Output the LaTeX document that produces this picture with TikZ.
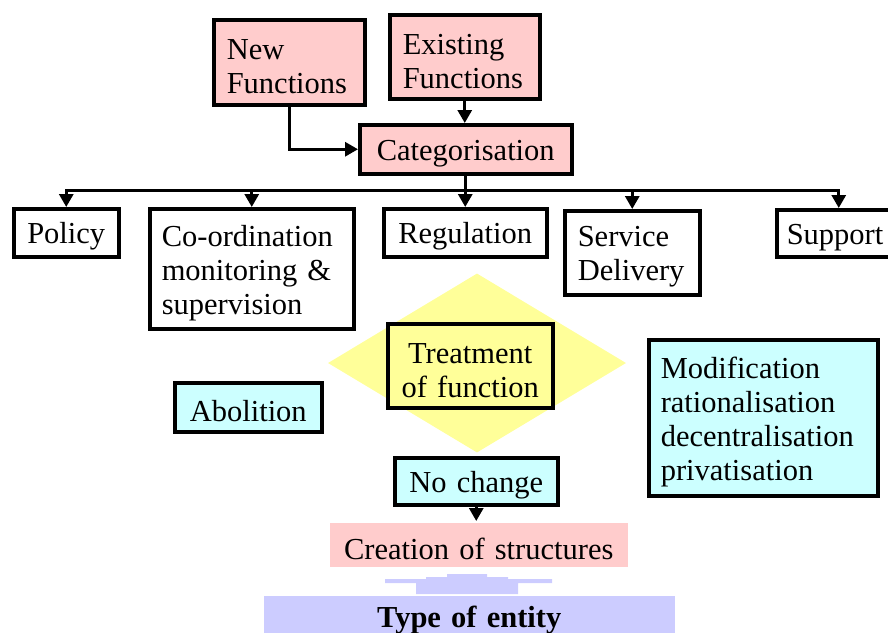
\documentclass[tikz,border=0pt]{standalone}
\usepackage{fontspec}
\setmainfont{Liberation Serif}
\usetikzlibrary{arrows.meta,shapes.geometric}
\definecolor{pinkc}{HTML}{FFCCCC}
\definecolor{yelc}{HTML}{FFFF99}
\definecolor{cyanc}{HTML}{CCFFFF}
\definecolor{lavc}{HTML}{CCCCFF}
\newcommand\tsx{\rule{0pt}{29pt}}
\begin{document}
\begin{tikzpicture}[x=1pt,y=-1pt,
  base/.style={font=\fontsize{30.5}{34}\selectfont, anchor=north west, inner ysep=0pt, line width=3.5pt},
  framed/.style={base, draw=black},
  arr/.style={line width=3pt, -{Triangle[length=13pt,width=14pt]}},
  conn/.style={line width=3pt, line cap=rect}]
\useasboundingbox (0,0) rectangle (888,632);

% top
\node[framed, fill=pinkc, minimum width=151pt, minimum height=85pt, text width=125pt, inner xsep=13pt, align=left] (newf) at (212,18) {\tsx New\\Functions};
\node[framed, fill=pinkc, minimum width=150pt, minimum height=84pt, text width=124pt, inner xsep=13pt, align=left] (exist) at (388,13) {\tsx Existing\\Functions};
\node[framed, fill=pinkc, minimum width=212pt, minimum height=49pt, text width=200pt, inner xsep=6pt, align=center] (cat) at (358,123) {\tsx Categorisation};

% categories
\node[framed, fill=white, minimum width=105pt, minimum height=48pt, text width=97pt, inner xsep=4pt, align=center] (policy) at (12,207) {\tsx Policy};
\node[framed, fill=white, minimum width=204pt, minimum height=120pt, text width=180pt, inner xsep=12pt, align=left] (coord) at (148,207) {\tsx Co-ordination\\monitoring \&\\supervision};
\node[framed, fill=white, minimum width=163pt, minimum height=48pt, text width=153pt, inner xsep=5pt, align=center] (regul) at (382,207) {\tsx Regulation};
\node[framed, fill=white, minimum width=135pt, minimum height=84pt, text width=109pt, inner xsep=13pt, align=left] (serv) at (563,209) {\tsx Service\\Delivery};
\node[framed, fill=white, minimum width=124pt, minimum height=47pt, text width=104pt, inner xsep=10pt, align=left] (support) at (775,208) {\tsx Support};

% treatment
\node[diamond, fill=yelc, minimum width=298pt, minimum height=179pt, inner sep=0pt, anchor=center] (treatdia) at (477,363) {};
\node[framed, fill=yelc, minimum width=165pt, minimum height=84pt, text width=155pt, inner xsep=5pt, align=center] (treat) at (386,322) {\tsx Treatment\\of function};
\node[framed, fill=cyanc, minimum width=147pt, minimum height=49pt, text width=137pt, inner xsep=5pt, align=center] (abol) at (173,381) {\tsx Abolition};
\node[framed, fill=cyanc, minimum width=163pt, minimum height=47pt, text width=153pt, inner xsep=5pt, align=center] (noch) at (393,456) {\tsx No change};
\node[framed, fill=cyanc, minimum width=229pt, minimum height=156pt, text width=205pt, inner xsep=12pt, align=left] (modif) at (647,338) {\tsx Modification\\rationalisation\\decentralisation\\privatisation};

% bottom
\node[base, fill=pinkc, minimum width=298pt, minimum height=44pt, text width=288pt, inner xsep=5pt, align=center] (crea) at (328,521) {\tsx Creation of structures};
\fill[lavc] (447,574) -- (487,574) -- (487,577) -- (508,577) -- (508,579) -- (552,579) -- (552,583) -- (518,583) -- (518,594) -- (416,594) -- (416,583) -- (385,583) -- (385,579) -- (426,579) -- (426,577) -- (447,577) -- cycle;
\node[base, fill=lavc, minimum width=411pt, minimum height=42pt, text width=391pt, inner xsep=10pt, align=center, font=\fontsize{30.5}{34}\selectfont\bfseries] (type) at (262,594) {\tsx Type of entity};
\fill[lavc] (type.south west) rectangle ([yshift=-12pt]type.south east);

% connectors
\draw[arr] (newf.south) |- (cat.west);
\draw[arr] (exist.south) -- (exist.south |- cat.north);
\coordinate (busy) at (0,190);
\draw[conn] (cat.south) -- (cat.south |- busy);
\draw[conn] (policy.north |- busy) -- (support.north |- busy);
\draw[arr] (policy.north |- busy) -- (policy.north);
\draw[arr] (coord.north |- busy) -- (coord.north);
\draw[arr] (regul.north |- busy) -- (regul.north);
\draw[arr] (serv.north |- busy) -- (serv.north);
\draw[arr] (support.north |- busy) -- (support.north);
\draw[arr] (noch.south) -- (noch.south |- crea.north);
\end{tikzpicture}
\end{document}
